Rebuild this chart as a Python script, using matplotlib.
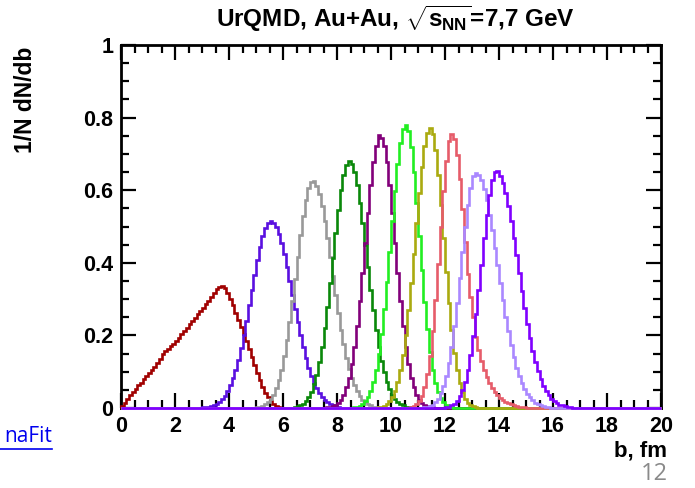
import numpy as np
import matplotlib
matplotlib.use("Agg")
import matplotlib.pyplot as plt
from matplotlib.ticker import MultipleLocator, FixedLocator, FixedFormatter

# ---- data: histograms of 1/N dN/db, bin width 0.1 fm ----
bin_width = 0.1
b_min, b_max = 0.0, 20.0

red_start = 0.0
red_vals = [0.005, 0.015, 0.025, 0.035, 0.044, 0.053, 0.062, 0.070, 0.079, 0.088,
            0.096, 0.105, 0.114, 0.124, 0.135, 0.148, 0.158, 0.163, 0.170, 0.176,
            0.185, 0.194, 0.204, 0.212, 0.221, 0.231, 0.241, 0.249, 0.258, 0.266,
            0.276, 0.286, 0.296, 0.307, 0.318, 0.327, 0.334, 0.337, 0.331, 0.318,
            0.301, 0.283, 0.263, 0.243, 0.224, 0.204, 0.184, 0.162, 0.140, 0.118,
            0.096, 0.076, 0.058, 0.042, 0.029, 0.019, 0.011, 0.006, 0.003, 0.001]

blue_start = 3.0
blue_vals = [0.002, 0.002, 0.004, 0.006, 0.008, 0.012, 0.017, 0.025, 0.034, 0.047,
             0.062, 0.082, 0.106, 0.133, 0.166, 0.202, 0.241, 0.283, 0.325, 0.367,
             0.407, 0.443, 0.473, 0.496, 0.510, 0.515, 0.511, 0.499, 0.480, 0.454,
             0.424, 0.389, 0.351, 0.312, 0.273, 0.236, 0.200, 0.167, 0.138, 0.111,
             0.089, 0.070, 0.054, 0.041, 0.031, 0.023, 0.016, 0.012, 0.008, 0.006,
             0.004]

grey_start = 5.0
grey_vals = [0.002, 0.004, 0.006, 0.010, 0.016, 0.025, 0.037, 0.054, 0.076, 0.106,
             0.142, 0.186, 0.237, 0.294, 0.354, 0.417, 0.476, 0.530, 0.574, 0.606,
             0.623, 0.624, 0.612, 0.589, 0.556, 0.514, 0.467, 0.416, 0.363, 0.311,
             0.261, 0.216, 0.175, 0.138, 0.107, 0.083, 0.062, 0.046, 0.033, 0.023,
             0.016, 0.011, 0.007, 0.004, 0.002]

dkgreen_start = 6.4
dkgreen_vals = [0.003, 0.005, 0.008, 0.012, 0.019, 0.030, 0.045, 0.065, 0.092, 0.127,
                0.169, 0.221, 0.279, 0.344, 0.412, 0.481, 0.545, 0.600, 0.643, 0.670,
                0.680, 0.672, 0.649, 0.613, 0.566, 0.510, 0.450, 0.388, 0.326, 0.269,
                0.216, 0.169, 0.130, 0.098, 0.072, 0.052, 0.036, 0.025, 0.016, 0.011,
                0.007, 0.004, 0.003]

purple_start = 7.6
purple_vals = [0.002, 0.003, 0.005, 0.008, 0.014, 0.023, 0.037, 0.057, 0.084, 0.121,
               0.169, 0.227, 0.296, 0.373, 0.455, 0.537, 0.613, 0.677, 0.722, 0.752,
               0.745, 0.722, 0.677, 0.613, 0.537, 0.455, 0.373, 0.296, 0.227, 0.169,
               0.121, 0.084, 0.057, 0.037, 0.023, 0.014, 0.008, 0.005, 0.003, 0.002]

green_start = 8.6
green_vals = [0.002, 0.004, 0.006, 0.011, 0.019, 0.030, 0.048, 0.073, 0.105, 0.149,
              0.204, 0.272, 0.347, 0.430, 0.516, 0.599, 0.672, 0.730, 0.768, 0.780,
              0.764, 0.720, 0.651, 0.566, 0.473, 0.380, 0.293, 0.217, 0.154, 0.105,
              0.069, 0.044, 0.027, 0.016, 0.009, 0.005, 0.002]

olive_start = 9.5
olive_vals = [0.002, 0.004, 0.006, 0.011, 0.018, 0.030, 0.047, 0.072, 0.104, 0.147,
              0.201, 0.269, 0.343, 0.424, 0.510, 0.591, 0.664, 0.721, 0.758, 0.770,
              0.755, 0.711, 0.643, 0.559, 0.467, 0.375, 0.289, 0.214, 0.152, 0.104,
              0.068, 0.043, 0.026, 0.015, 0.008, 0.005, 0.002]

salmon_start = 10.7
salmon_vals = [0.002, 0.005, 0.010, 0.018, 0.033, 0.057, 0.093, 0.144, 0.213, 0.298,
               0.396, 0.500, 0.599, 0.681, 0.736, 0.755, 0.740, 0.697, 0.630, 0.548,
               0.458, 0.368, 0.305, 0.252, 0.195, 0.160, 0.130, 0.105, 0.085, 0.068,
               0.055, 0.044, 0.035, 0.028, 0.022, 0.017, 0.013, 0.010, 0.008, 0.006,
               0.004, 0.003, 0.002]

lilac_start = 11.2
lilac_vals = [0.002, 0.003, 0.005, 0.009, 0.016, 0.025, 0.040, 0.060, 0.087, 0.124,
              0.169, 0.226, 0.288, 0.357, 0.429, 0.498, 0.559, 0.607, 0.638, 0.648,
              0.643, 0.628, 0.604, 0.572, 0.533, 0.489, 0.442, 0.393, 0.344, 0.297,
              0.252, 0.211, 0.173, 0.140, 0.111, 0.087, 0.068, 0.052, 0.039, 0.029,
              0.021, 0.015, 0.010, 0.007, 0.005, 0.003, 0.002, 0.001]

violet_start = 11.9
violet_vals = [0.001, 0.002, 0.004, 0.007, 0.012, 0.020, 0.033, 0.050, 0.073, 0.105,
               0.147, 0.198, 0.258, 0.325, 0.395, 0.467, 0.533, 0.588, 0.628, 0.649,
               0.652, 0.640, 0.620, 0.592, 0.556, 0.515, 0.469, 0.421, 0.371, 0.322,
               0.276, 0.232, 0.193, 0.158, 0.127, 0.101, 0.079, 0.061, 0.046, 0.035,
               0.025, 0.018, 0.013, 0.009, 0.007, 0.005, 0.003, 0.002, 0.001]

colors = ["#a00000", "#5a10e0", "#999999", "#0a880a", "#82007a",
          "#22ee22", "#aaaa10", "#e65c6a", "#aa88ff", "#8000ff"]

x_ticks = [0, 2, 4, 6, 8, 10, 12, 14, 16, 18, 20]
y_ticks = [0, 0.2, 0.4, 0.6, 0.8, 1.0]
y_tick_labels = ["0", "0.2", "0.4", "0.6", "0.8", "1"]

series = [(red_start, red_vals), (blue_start, blue_vals), (grey_start, grey_vals),
          (dkgreen_start, dkgreen_vals), (purple_start, purple_vals),
          (green_start, green_vals), (olive_start, olive_vals),
          (salmon_start, salmon_vals), (lilac_start, lilac_vals),
          (violet_start, violet_vals)]

# ---- figure ----
plt.rcParams["font.family"] = ["Liberation Sans", "DejaVu Sans"]
plt.rcParams["mathtext.fontset"] = "custom"
plt.rcParams["mathtext.rm"] = "Liberation Sans:bold"
plt.rcParams["mathtext.bf"] = "Liberation Sans:bold"
plt.rcParams["mathtext.it"] = "Liberation Sans:bold"

fig = plt.figure(figsize=(6.95, 4.88), dpi=100)
ax = fig.add_axes([121 / 695, 1 - 408 / 488, 540 / 695, 363 / 488])

nbins = int(round((b_max - b_min) / bin_width))
edges = np.linspace(b_min, b_max, nbins + 1)
for (start, vals), col in zip(series, colors):
    h = np.zeros(nbins)
    i0 = int(round((start - b_min) / bin_width))
    h[i0:i0 + len(vals)] = vals
    ax.stairs(h, edges, color=col, lw=1.9, zorder=3, clip_on=False)

ax.set_xlim(b_min, b_max)
ax.set_ylim(0, 1)

for s in ax.spines.values():
    s.set_linewidth(2.0)
    s.set_color("black")

ax.xaxis.set_major_locator(FixedLocator(x_ticks))
ax.xaxis.set_minor_locator(MultipleLocator(0.5))
ax.yaxis.set_major_locator(FixedLocator(y_ticks))
ax.yaxis.set_major_formatter(FixedFormatter(y_tick_labels))
ax.yaxis.set_minor_locator(MultipleLocator(0.05))
ax.tick_params(which="both", direction="in", top=True, right=True, width=1.6)
ax.tick_params(which="major", length=11, labelsize=15.5)
ax.tick_params(axis="x", which="major", pad=6)
ax.tick_params(axis="y", which="major", pad=5.5)
ax.tick_params(which="minor", length=5.5)
for lab in ax.get_xticklabels() + ax.get_yticklabels():
    lab.set_fontweight("bold")

fig.text(667 / 695, 1 - 451 / 488, "b, fm", fontsize=16, fontweight="bold",
         ha="right", va="center")
fig.text(26 / 695, 1 - 47 / 488, "1/N dN/db", fontsize=16.5, fontweight="bold",
         rotation=90, ha="center", va="top")

fig.text(395 / 695, 1 - 19 / 488, r"UrQMD, Au+Au, $\sqrt{s_{NN}}$=7,7 GeV",
         fontsize=17.5, fontweight="bold", ha="center", va="center")

# slide artefacts
fig.text(52 / 695, 1 - 437 / 488, "naFit", fontsize=15, color="#0000ee",
         ha="right", va="center", family=["Open Sans", "DejaVu Sans"])
fig.add_artist(plt.Line2D([0, 52 / 695], [1 - 449 / 488, 1 - 449 / 488],
                          color="#0000ee", lw=1.2))
fig.text(654 / 695, 2 / 488, "12", fontsize=17, color="#8a8a8a",
         ha="center", va="bottom", family=["Open Sans", "DejaVu Sans"])

fig.savefig("out.png", dpi=100)
